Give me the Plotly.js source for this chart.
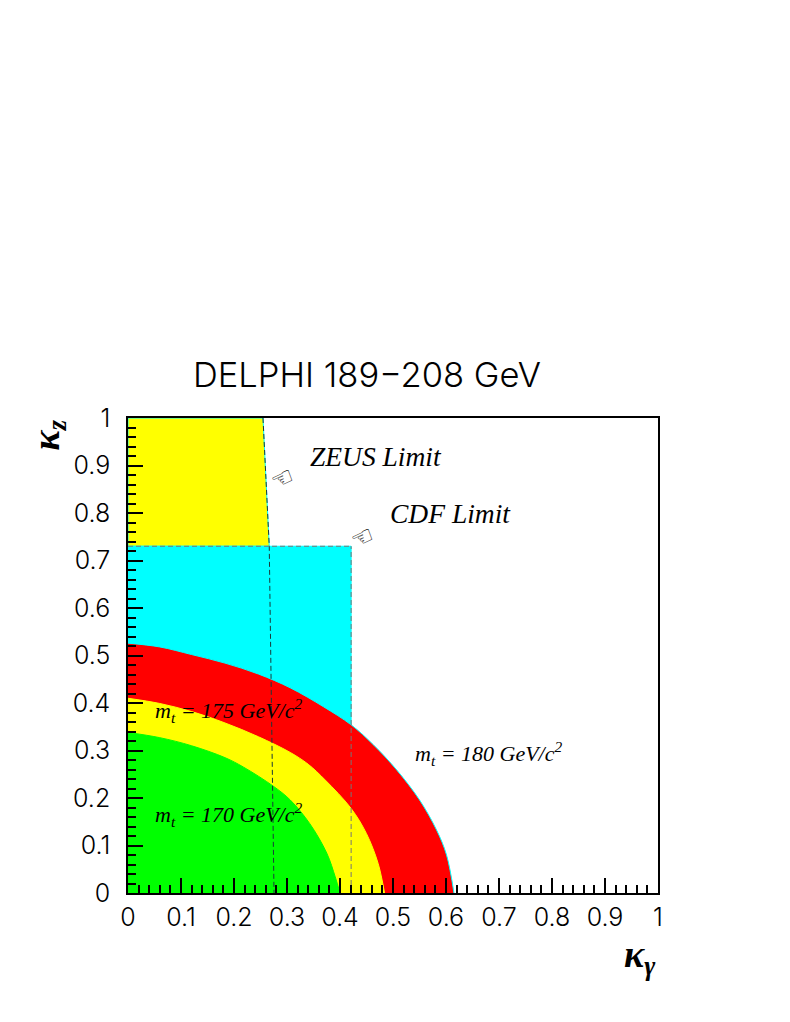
<!DOCTYPE html>
<html>
<head>
<meta charset="utf-8">
<script src="https://cdn.plot.ly/plotly-3.0.1.min.js"></script>
<style>
html, body { margin: 0; padding: 0; background: #fff; }
</style>
</head>
<body>
<div id="graph"></div>
<script>
// contours
var mt180X = [0, 0.060, 0.120, 0.183, 0.246, 0.306, 0.369, 0.421, 0.463, 0.507, 0.550, 0.582, 0.601, 0.615];
var mt180Y = [0.526, 0.518, 0.502, 0.484, 0.461, 0.432, 0.392, 0.354, 0.312, 0.259, 0.196, 0.133, 0.080, 0];

var mt175X = [0, 0.060, 0.120, 0.183, 0.246, 0.306, 0.340, 0.372, 0.421, 0.450, 0.472, 0.484];
var mt175Y = [0.410, 0.399, 0.382, 0.358, 0.329, 0.296, 0.271, 0.238, 0.178, 0.125, 0.062, 0];

var mt170X = [0, 0.060, 0.120, 0.183, 0.218, 0.274, 0.306, 0.343, 0.375, 0.391, 0.400];
var mt170Y = [0.338, 0.327, 0.310, 0.285, 0.265, 0.225, 0.196, 0.146, 0.084, 0.034, 0];

var zeusX = [0.2547, 0.2665, 0.2755];
var zeusY = [1, 0.73, 0];
var cdfLimitX = 0.421;
var cdfLimitY = 0.73;

var tickVals = [0, 0.1, 0.2, 0.3, 0.4, 0.5, 0.6, 0.7, 0.8, 0.9, 1];
var tickText = ["0", "0.1", "0.2", "0.3", "0.4", "0.5", "0.6", "0.7", "0.8", "0.9", "1"];

function polygon(xs, ys, color, edge, name) {
    return {
        type: "scatter", mode: "lines", fill: "toself", fillcolor: color,
        x: xs, y: ys,
        line: {color: edge, width: 1},
        name: name, hoverinfo: "name"
    };
}

function contour(xs, ys, color, edge, name) {
    return {
        type: "scatter", mode: "lines", fill: "tozeroy", fillcolor: color,
        x: xs, y: ys,
        line: {color: edge, width: 1, shape: "spline", smoothing: 1},
        name: name, hoverinfo: "name"
    };
}

function dashed(xs, ys, color, name) {
    return {
        type: "scatter", mode: "lines", x: xs, y: ys, name: name,
        line: {color: color, width: 1, dash: "5px,3px"}
    };
}

var data = [
    polygon([0, zeusX[0], zeusX[1], 0, 0], [1, 1, cdfLimitY, cdfLimitY, 1], "#ffff00", "#00ffff", "ZEUS allowed"),
    polygon([0, cdfLimitX, cdfLimitX, 0, 0], [cdfLimitY, cdfLimitY, 0, 0, cdfLimitY], "#00ffff", "#00ffff", "CDF allowed"),
    contour(mt180X, mt180Y, "#ff0000", "#00ffff", "mt = 180"),
    contour(mt175X, mt175Y, "#ffff00", "#ffff00", "mt = 175"),
    contour(mt170X, mt170Y, "#00ff00", "#00ff00", "mt = 170"),
    dashed(zeusX, zeusY, "#1a3a3a", "ZEUS limit"),
    dashed([cdfLimitX, cdfLimitX], [0, cdfLimitY], "#777777", "CDF limit"),
    dashed([0, cdfLimitX], [cdfLimitY, cdfLimitY], "#777777", "CDF limit")
];

var serif = "Liberation Serif, serif";
var thin = "Inter, sans-serif";

function note(x, y, text, size) {
    return {
        xref: "x", yref: "y", x: x, y: y, text: text, showarrow: false,
        xanchor: "left", yanchor: "middle",
        font: {family: serif, size: size, color: "#000"}
    };
}

function hand(x, y) {
    return {
        xref: "x", yref: "y", x: x, y: y, text: "<b>\u261C</b>", showarrow: false, textangle: -25,
        font: {family: "DejaVu Sans", size: 25, color: "#000"}
    };
}

function mtLabel(mass) {
    return "<i>m<sub>t</sub> = " + mass + " GeV/c<sup>2</sup></i>";
}

function axis() {
    return {
        range: [0, 1], tickvals: tickVals, ticktext: tickText,
        ticks: "inside", ticklen: 15, tickwidth: 1.5, tickcolor: "#000",
        minor: {dtick: 0.02, ticks: "inside", ticklen: 8, tickwidth: 1.5, tickcolor: "#000"},
        showgrid: false, zeroline: false,
        showline: true, mirror: true, linecolor: "#000", linewidth: 1.5,
        tickfont: {family: thin, size: 25, weight: 300, color: "#000"}
    };
}

var xAxis = axis();
var yAxis = axis();
xAxis.ticklabelstandoff = 1;
yAxis.ticklabelstandoff = 11;

var layout = {
    width: 790,
    height: 1022,
    margin: {l: 128, r: 132, t: 418, b: 129},
    paper_bgcolor: "#fff",
    plot_bgcolor: "#fff",
    showlegend: false,
    title: {
        text: "DELPHI 189\u2212208 GeV",
        font: {family: thin, size: 34.5, weight: 300, color: "#000"},
        x: 367 / 790, xanchor: "center",
        y: 1 - 375 / 1022, yanchor: "middle"
    },
    xaxis: xAxis,
    yaxis: yAxis,
    annotations: [
        note(0.34, 0.919, "<i>ZEUS Limit</i>", 27.5),
        note(0.49, 0.798, "<i>CDF Limit</i>", 27.5),
        note(0.047, 0.385, mtLabel(175), 22),
        note(0.047, 0.166, mtLabel(170), 22),
        note(0.537, 0.294, mtLabel(180), 22),
        hand(0.291, 0.873),
        hand(0.442, 0.749),
        {
            xref: "paper", yref: "paper", x: 1.0, y: -0.19, showarrow: false,
            text: "<b><i>\u03BA<sub>\u03B3</sub></i></b>",
            font: {family: serif, size: 38, color: "#000"}
        },
        {
            xref: "paper", yref: "paper", x: -0.2, y: 1.0, showarrow: false, textangle: -90,
            text: "<b><i>\u03BA<sub>z</sub></i></b>",
            font: {family: serif, size: 38, color: "#000"}
        }
    ]
};

Plotly.newPlot("graph", data, layout, {displayModeBar: false});
</script>
</body>
</html>
